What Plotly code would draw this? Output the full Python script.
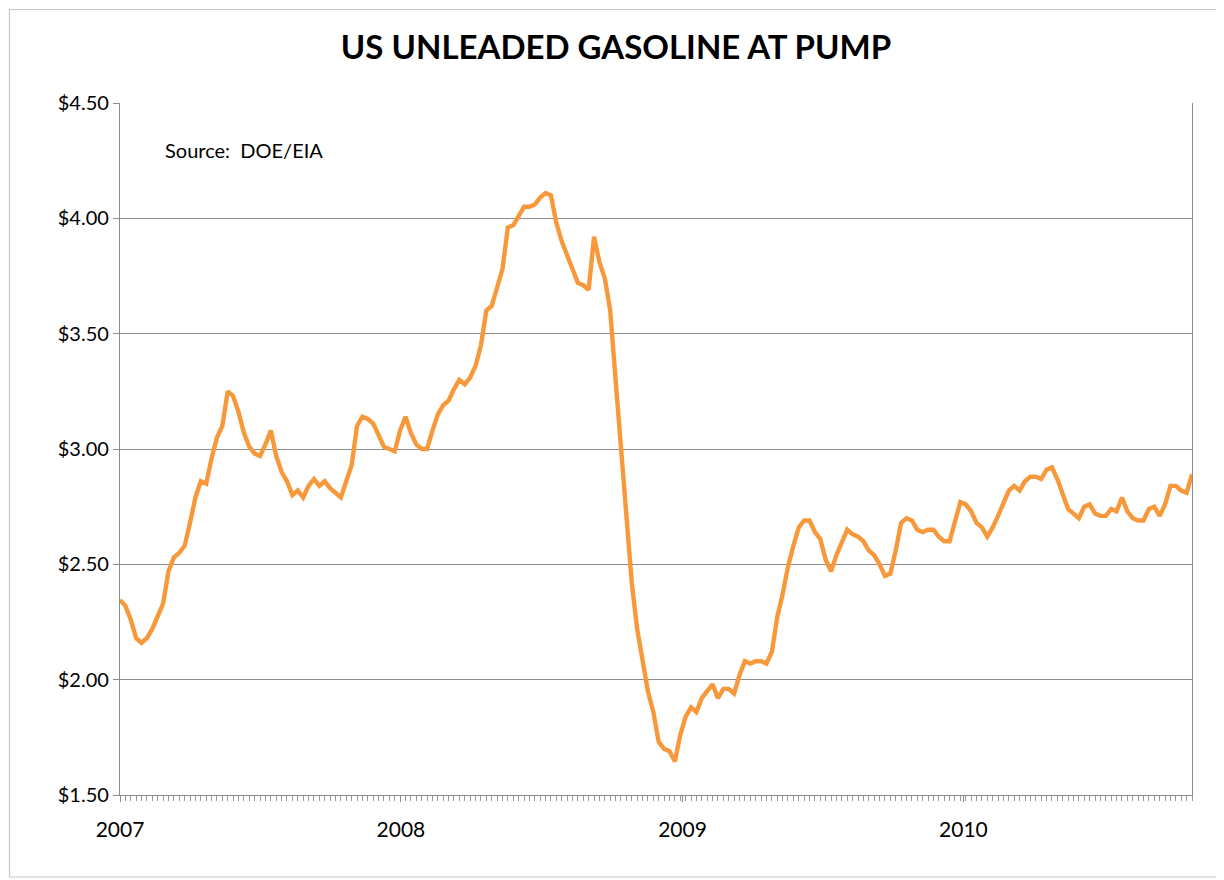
import pandas as pd
import plotly.graph_objects as go

# Weekly US regular unleaded retail price ($/gal), weeks starting 2007-01-01
start_date = "2007-01-01"
prices = [
    2.345, 2.32, 2.26, 2.18, 2.16, 2.18, 2.22, 2.27, 2.33, 2.47,
    2.53, 2.55, 2.58, 2.68, 2.79, 2.86, 2.85, 2.96, 3.05, 3.10,
    3.25, 3.23, 3.16, 3.07, 3.01, 2.98, 2.97, 3.02, 3.08, 2.97,
    2.90, 2.86, 2.80, 2.82, 2.79, 2.84, 2.87, 2.84, 2.86, 2.83,
    2.81, 2.79, 2.86, 2.93, 3.10, 3.14, 3.13, 3.11, 3.06, 3.01,
    3.00, 2.99, 3.08, 3.14, 3.07, 3.02, 3.00, 3.00, 3.08, 3.15,
    3.19, 3.21, 3.26, 3.30, 3.28, 3.31, 3.36, 3.45, 3.60, 3.62,
    3.70, 3.78, 3.96, 3.97, 4.01, 4.05, 4.05, 4.06, 4.09, 4.11,
    4.10, 3.98, 3.90, 3.84, 3.77, 3.72, 3.71, 3.69, 3.92, 3.81,
    3.74, 3.60, 3.30, 3.00, 2.68, 2.42, 2.22, 2.08, 1.95, 1.86,
    1.73, 1.70, 1.69, 1.645, 1.76, 1.84, 1.88, 1.86, 1.92, 1.95,
    1.98, 1.92, 1.96, 1.96, 1.94, 2.02, 2.08, 2.07, 2.08, 2.08,
    2.07, 2.12, 2.27, 2.37, 2.49, 2.58, 2.66, 2.69, 2.69, 2.64,
    2.61, 2.52, 2.47, 2.54, 2.60, 2.65, 2.63, 2.62, 2.60, 2.56,
    2.54, 2.50, 2.45, 2.46, 2.56, 2.68, 2.70, 2.69, 2.65, 2.64,
    2.65, 2.65, 2.62, 2.60, 2.60, 2.68, 2.77, 2.76, 2.73, 2.68,
    2.66, 2.62, 2.66, 2.71, 2.77, 2.82, 2.84, 2.82, 2.86, 2.88,
    2.88, 2.87, 2.91, 2.92, 2.87, 2.80, 2.74, 2.72, 2.70, 2.75,
    2.76, 2.72, 2.71, 2.71, 2.74, 2.73, 2.79, 2.73, 2.70, 2.69,
    2.69, 2.74, 2.75, 2.71, 2.76, 2.84, 2.84, 2.82, 2.81, 2.89,
]
y_ticks = [1.5, 2.0, 2.5, 3.0, 3.5, 4.0, 4.5]
y_tick_labels = ["$1.50", "$2.00", "$2.50", "$3.00", "$3.50", "$4.00", "$4.50"]
year_ticks = ["2007-01-01", "2008-01-01", "2009-01-01", "2010-01-01"]
year_labels = ["2007", "2008", "2009", "2010"]
title_text = "US UNLEADED GASOLINE AT PUMP"
source_text = "Source:  DOE/EIA"

dates = pd.date_range(start_date, periods=len(prices), freq="7D")

FONT = "Lato"
LINE_COLOR = "#F7993A"
GRID = "#8C8C8C"

fig = go.Figure()
fig.add_trace(go.Scatter(
    x=dates, y=prices, mode="lines",
    line=dict(color=LINE_COLOR, width=4.4),
    hoverinfo="x+y", showlegend=False,
))

# page body has an 8px margin; size the figure to fill the visible window
OFF = 8
W, H = 1224 - OFF, 880 - OFF
L, T = 120 - OFF, 103 - OFF
R = W - (1192 - OFF)
B = H - (795 - OFF)
pw, ph = W - L - R, H - T - B

fig.update_layout(
    width=W, height=H,
    margin=dict(l=L, r=R, t=T, b=B),
    paper_bgcolor="white", plot_bgcolor="white",
    font=dict(family=FONT, color="#000000"),
    title=dict(text="<b>" + title_text + "</b>", x=0.5, xanchor="center",
               y=1 - (47 - OFF) / H, yanchor="middle",
               font=dict(family=FONT, size=33, color="#000000")),
    showlegend=False,
)

fig.update_xaxes(
    type="date",
    range=[dates[0], dates[-1]],
    tickmode="array", tickvals=year_ticks, ticktext=year_labels,
    ticks="outside", ticklen=6, tickcolor=GRID, tickwidth=1,
    ticklabelstandoff=10,
    tickfont=dict(family=FONT, size=21, color="#000000"),
    showgrid=False, zeroline=False,
    showline=True, linecolor=GRID, linewidth=1.3,
    minor=dict(dtick=7 * 86400000, tick0=start_date, ticks="outside",
               ticklen=5, tickcolor="#9A9A9A", tickwidth=1, showgrid=False),
)

fig.update_yaxes(
    range=[1.5, 4.5],
    tickmode="array", tickvals=y_ticks, ticktext=y_tick_labels,
    ticks="outside", ticklen=6, tickcolor=GRID, tickwidth=1,
    tickfont=dict(family=FONT, size=20, color="#000000"),
    showgrid=True, gridcolor=GRID, gridwidth=1,
    zeroline=False,
    showline=True, linecolor=GRID, linewidth=1.3, mirror=True,
)

fig.add_annotation(
    x=(163 - 120) / pw, y=(795 - 150) / ph, xref="paper", yref="paper",
    text=source_text, showarrow=False, xanchor="left", yanchor="middle",
    font=dict(family=FONT, size=20, color="#000000"),
)

# outer chart-area border
fig.add_shape(
    type="rect", xref="paper", yref="paper",
    x0=(9.5 - 120) / pw, x1=(1220 - 120) / pw,
    y0=(795 - 877) / ph, y1=(795 - 9.5) / ph,
    line=dict(color="#C8C8C8", width=1.2), fillcolor="rgba(0,0,0,0)",
    layer="below",
)

fig.write_html("out.html")
